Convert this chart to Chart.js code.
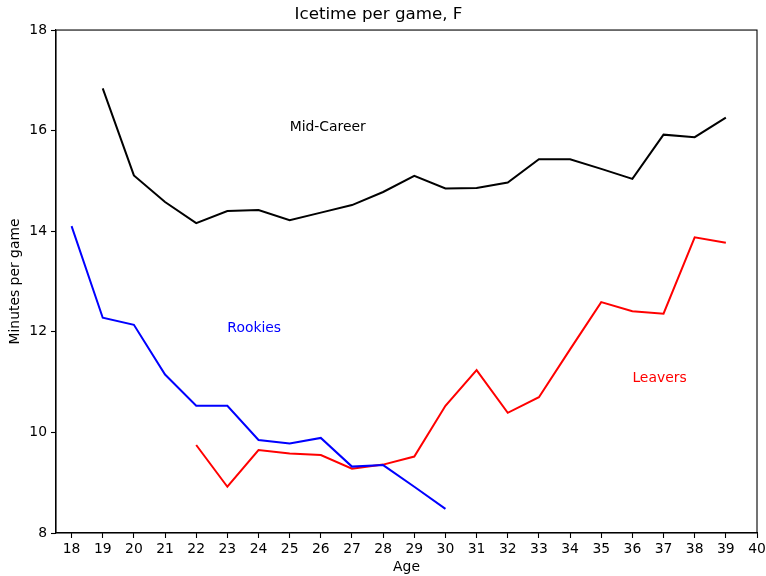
<!DOCTYPE html>
<html>
<head>
<meta charset="utf-8">
<script src="https://cdn.jsdelivr.net/npm/chart.js@4/dist/chart.umd.min.js"></script>
<style>
html,body{margin:0;padding:0;background:#fff;}
#wrap{width:766px;height:576px;}
</style>
</head>
<body>
<div id="wrap"><canvas id="c" width="766" height="576"></canvas></div>
<script>
const ages = [18,19,20,21,22,23,24,25,26,27,28,29,30,31,32,33,34,35,36,37,38,39];
const midCareer = [null,16.84,15.11,14.58,14.16,14.40,14.42,14.22,14.37,14.52,14.78,15.10,14.85,14.86,14.97,15.43,15.43,15.24,15.04,15.92,15.87,16.26];
const rookies = [14.10,12.28,12.14,11.15,10.53,10.53,9.85,9.78,9.89,9.32,9.35,8.92,8.48,null,null,null,null,null,null,null,null,null];
const leavers = [null,null,null,null,9.75,8.92,9.65,9.58,9.55,9.28,9.36,9.52,10.53,11.24,10.39,10.70,11.65,12.59,12.41,12.36,13.88,13.77];
const xTicks = [18,19,20,21,22,23,24,25,26,27,28,29,30,31,32,33,34,35,36,37,38,39,40];
const yTicks = [8,10,12,14,16,18];
const annotationTexts = ['Mid-Career','Rookies','Leavers'];
const annotationAges = [25,23,36];
const annotationValues = [16,12,11];
const annotationColors = ['#000000','#0000ff','#ff0000'];

const FONT = "'DejaVu Sans', sans-serif";
const toPts = vals => ages.map((a,i)=>({x:a,y:vals[i]}));

const framePlugin = {
  id:'frame',
  afterDraw(chart){
    const {ctx, chartArea:a, scales} = chart;
    ctx.save();
    ctx.strokeStyle='#000';
    ctx.lineWidth=1.1;
    ctx.strokeRect(a.left, a.top, a.right-a.left, a.bottom-a.top);
    ctx.font = "13.9px " + FONT;
    ctx.textAlign='left';
    ctx.textBaseline='alphabetic';
    annotationTexts.forEach((t,i)=>{
      ctx.fillStyle = annotationColors[i];
      ctx.fillText(t, scales.x.getPixelForValue(annotationAges[i]), scales.y.getPixelForValue(annotationValues[i]));
    });
    ctx.restore();
  }
};

new Chart(document.getElementById('c'), {
  type:'line',
  data:{
    datasets:[
      {label:'Mid-Career', data:toPts(midCareer), borderColor:'#000000', borderWidth:2, pointRadius:0, tension:0, fill:false},
      {label:'Rookies', data:toPts(rookies), borderColor:'#0000ff', borderWidth:2, pointRadius:0, tension:0, fill:false},
      {label:'Leavers', data:toPts(leavers), borderColor:'#ff0000', borderWidth:2, pointRadius:0, tension:0, fill:false}
    ]
  },
  options:{
    responsive:false,
    animation:false,
    layout:{padding:{left:0,right:9,top:0,bottom:0}},
    plugins:{
      legend:{display:false},
      tooltip:{enabled:false},
      title:{display:true, text:'Icetime per game, F', color:'#000', font:{family:FONT, size:16.7, weight:'normal'}, padding:{top:5,bottom:5}}
    },
    scales:{
      x:{
        type:'linear', min:17.5, max:40,
        afterFit(s){ s.height = 43; s.paddingRight = 0; s.paddingLeft = 0; },
        afterBuildTicks(s){ s.ticks = xTicks.map(v=>({value:v})); },
        grid:{drawOnChartArea:false, drawTicks:true, tickLength:5, tickColor:'#000', tickWidth:1.1},
        border:{display:true, color:'#000', width:1.1},
        ticks:{color:'#000', font:{family:FONT,size:13.9}, padding:3, maxRotation:0, autoSkip:false, includeBounds:false},
        title:{display:true, text:'Age', color:'#000', font:{family:FONT,size:13.9}, padding:{top:0,bottom:0}}
      },
      y:{
        type:'linear', min:8, max:18,
        afterFit(s){ s.width = 56; },
        afterBuildTicks(s){ s.ticks = yTicks.map(v=>({value:v})); },
        grid:{drawOnChartArea:false, drawTicks:true, tickLength:5, tickColor:'#000', tickWidth:1.1},
        border:{display:true, color:'#000', width:1.1},
        ticks:{color:'#000', font:{family:FONT,size:13.9}, padding:4},
        title:{display:true, text:'Minutes per game', color:'#000', font:{family:FONT,size:13.9}, padding:{top:7,bottom:0}}
      }
    }
  },
  plugins:[framePlugin]
});
</script>
</body>
</html>
